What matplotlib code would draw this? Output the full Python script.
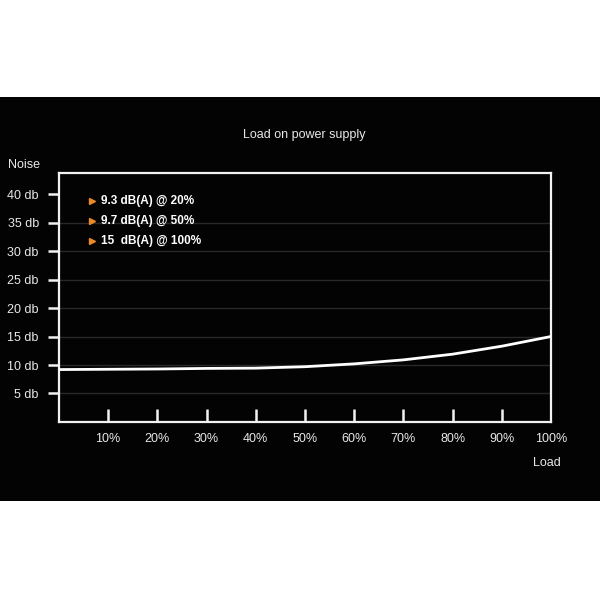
import matplotlib
matplotlib.use('Agg')
import matplotlib.pyplot as plt
from matplotlib.patches import Rectangle

# Dati nolasīti no attēla
slodze = [0, 10, 20, 30, 40, 50, 60, 70, 80, 90, 100]
troksnis = [9.2, 9.25, 9.3, 9.4, 9.45, 9.7, 10.2, 10.9, 11.9, 13.3, 15.0]
y_ticks = [5, 10, 15, 20, 25, 30, 35, 40]
y_labels = ['5 db', '10 db', '15 db', '20 db', '25 db', '30 db', '35 db', '40 db']
x_ticks = [10, 20, 30, 40, 50, 60, 70, 80, 90, 100]
x_labels = ['10%', '20%', '30%', '40%', '50%', '60%', '70%', '80%', '90%', '100%']
piezimes = ['9.3 dB(A) @ 20%', '9.7 dB(A) @ 50%', '15  dB(A) @ 100%']

plt.rcParams['font.family'] = ['Liberation Sans', 'DejaVu Sans']

fig = plt.figure(figsize=(6, 6), dpi=100, facecolor='white')
fig.patches.append(Rectangle((0, 0.165), 1, 0.673, transform=fig.transFigure,
                             facecolor='#030303', edgecolor='none', zorder=-10))

ax = fig.add_axes([0.0983, 0.2967, 0.82, 0.415])
ax.set_zorder(2)
ax.set_facecolor('#030303')

# Režģa līnijas
for y in y_ticks[:-1]:
    ax.axhline(y, color='#28282b', lw=1, zorder=1)

ax.plot(slodze, troksnis, color='white', lw=2, zorder=3, solid_capstyle='butt')

ax.set_xlim(0, 100)
ax.set_ylim(0, 43.7)
for s in ax.spines.values():
    s.set_color('#f2f2f2')
    s.set_linewidth(1.6)

ax.set_yticks(y_ticks)
ax.set_yticklabels(y_labels)
ax.set_xticks(x_ticks)
ax.set_xticklabels(x_labels)
ax.tick_params(axis='y', direction='out', length=8, width=1.8, color='#f2f2f2',
               labelcolor='#e8e8e8', labelsize=9, pad=6.5)
ax.tick_params(axis='x', direction='in', length=9.5, width=1.8, color='#f2f2f2',
               labelcolor='#e8e8e8', labelsize=9, pad=8)
# 100% atzīmei nav svītras (sakrīt ar rāmi)
ax.xaxis.get_major_ticks()[-1].tick1line.set_visible(False)

fig.text(0.507, 0.775, 'Load on power supply', color='#e8e8e8', fontsize=9,
         ha='center', va='center')
fig.text(0.013, 0.725, 'Noise', color='#e8e8e8', fontsize=9, ha='left', va='center')
fig.text(0.912, 0.228, 'Load', color='#e8e8e8', fontsize=9, ha='center', va='center')

rindas_y = [0.889, 0.807, 0.727]
for teksts, yy in zip(piezimes, rindas_y):
    ax.plot(0.067, yy, marker='>', color='#e8892a', markersize=4.5,
            transform=ax.transAxes, clip_on=False, zorder=4)
    ax.text(0.085, yy, teksts, color='white', fontsize=8.5, fontweight='bold',
            ha='left', va='center', transform=ax.transAxes, zorder=4)

fig.savefig('out.png', dpi=100, facecolor='white')
